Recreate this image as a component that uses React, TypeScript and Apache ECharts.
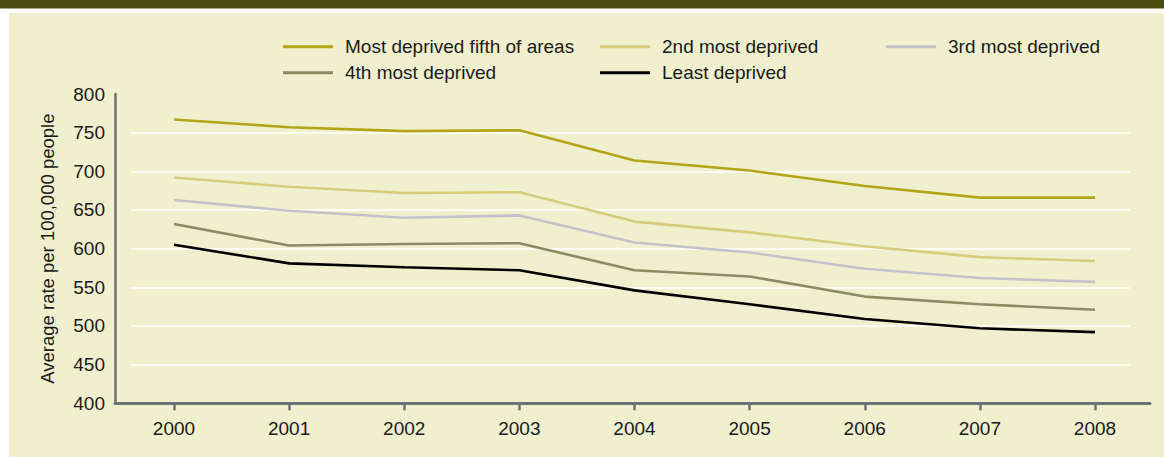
import React, { useEffect, useRef } from "react";
import * as echarts from "echarts";

const years = ["2000", "2001", "2002", "2003", "2004", "2005", "2006", "2007", "2008"];
const mostDeprived = [767, 757, 752, 753, 714, 701, 681, 666, 666];
const secondDeprived = [692, 680, 672, 673, 635, 621, 603, 589, 584];
const thirdDeprived = [663, 649, 640, 643, 608, 595, 574, 562, 557];
const fourthDeprived = [632, 604, 606, 607, 572, 564, 538, 528, 521];
const leastDeprived = [605, 581, 576, 572, 546, 528, 509, 497, 492];

const seriesNames = [
  "Most deprived fifth of areas",
  "2nd most deprived",
  "3rd most deprived",
  "4th most deprived",
  "Least deprived",
];
const seriesColors = ["#b2a517", "#d6cc7c", "#c3c2c8", "#8d8b63", "#000000"];
const seriesData = [mostDeprived, secondDeprived, thirdDeprived, fourthDeprived, leastDeprived];

const W = 1164;
const H = 457;
const FONT = "Liberation Sans";
const TEXT = "#1a1a1a";
const AXIS = "#6b7375";
const FS = 19;

export default function App() {
  const ref = useRef<HTMLDivElement>(null);
  useEffect(() => {
    if (!ref.current) return;
    const chart = echarts.init(ref.current, undefined, { renderer: "svg" });
    const top = 94;
    const bottom = H - 403.3;
    const pxPerUnit = (403.3 - 94) / 400;
    const gridTop750 = 403.3 - 350 * pxPerUnit;
    const legendBase = {
      orient: "vertical" as const,
      top: 35.7,
      padding: 0,
      itemGap: 4,
      itemWidth: 50,
      itemHeight: 3,
      icon: "rect",
      textStyle: { fontFamily: FONT, fontSize: FS, color: TEXT, lineHeight: 22, padding: [0, 0, 0, 7] },
    };
    chart.setOption({
      animation: false,
      backgroundColor: "#ffffff",
      textStyle: { fontFamily: FONT },
      graphic: [
        { type: "rect", z: -10, silent: true, shape: { x: 0, y: 0, width: W, height: 8.5 }, style: { fill: "#4c4a10" } },
        { type: "rect", z: -10, silent: true, shape: { x: 9, y: 13, width: W - 9, height: H - 13 }, style: { fill: "#f0f0cf" } },
      ],
      legend: [
        { ...legendBase, left: 283, data: [seriesNames[0], seriesNames[3]] },
        { ...legendBase, left: 600, data: [seriesNames[1], seriesNames[4]] },
        { ...legendBase, left: 886, data: [seriesNames[2]] },
      ],
      grid: [
        { left: 174, right: W - 1095, top, bottom },
        { left: 115, right: W - 1150, top, bottom },
        { left: 131, right: W - 1130, top: gridTop750, bottom },
      ],
      xAxis: [
        {
          type: "category",
          gridIndex: 0,
          data: years,
          boundaryGap: false,
          axisLine: { show: false },
          axisTick: { show: true, length: 7, lineStyle: { color: AXIS, width: 2.5 } },
          axisLabel: { fontFamily: FONT, fontSize: FS, color: TEXT, margin: 16 },
          splitLine: { show: false },
        },
        {
          type: "value",
          gridIndex: 1,
          min: 0,
          max: 1,
          axisLine: { show: true, lineStyle: { color: AXIS, width: 3 } },
          axisTick: { show: false },
          axisLabel: { show: false },
          splitLine: { show: false },
        },
        {
          type: "value",
          gridIndex: 2,
          min: 0,
          max: 1,
          show: false,
        },
      ],
      yAxis: [
        { type: "value", gridIndex: 0, min: 400, max: 800, show: false },
        {
          type: "value",
          gridIndex: 1,
          min: 400,
          max: 800,
          interval: 50,
          name: "Average rate per 100,000 people",
          nameLocation: "middle",
          nameGap: 58,
          nameRotate: 90,
          nameTextStyle: { fontFamily: FONT, fontSize: 18.5, color: TEXT },
          axisLine: { show: true, lineStyle: { color: AXIS, width: 2.5 } },
          axisTick: { show: false },
          axisLabel: { fontFamily: FONT, fontSize: FS, color: TEXT, margin: 10 },
          splitLine: { show: false },
        },
        {
          type: "value",
          gridIndex: 2,
          min: 400,
          max: 750,
          interval: 50,
          axisLine: { show: false },
          axisTick: { show: false },
          axisLabel: { show: false },
          splitLine: { show: true, lineStyle: { color: "#ffffff", width: 1.5 } },
        },
      ],
      series: seriesData.map((d, i) => ({
        name: seriesNames[i],
        type: "line",
        xAxisIndex: 0,
        yAxisIndex: 0,
        data: d,
        showSymbol: false,
        symbol: "none",
        color: seriesColors[i],
        lineStyle: { color: seriesColors[i], width: 2.6 },
        z: 5,
      })),
    });
    return () => chart.dispose();
  }, []);
  return (
    <div style={{ position: "absolute", left: 0, top: 0, width: W, height: H }}>
      <div ref={ref} style={{ width: W, height: H }} />
    </div>
  );
}
